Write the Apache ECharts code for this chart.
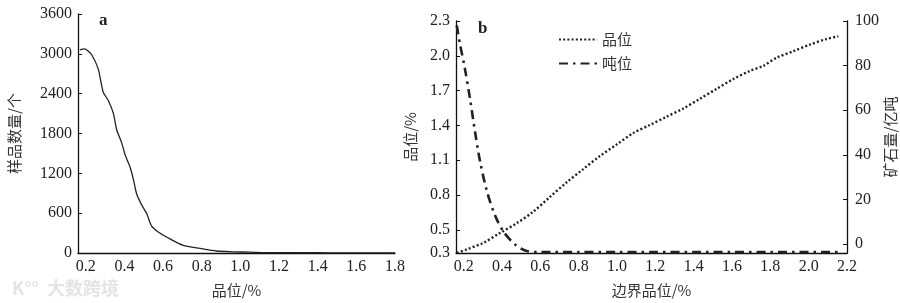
<!DOCTYPE html>
<html>
<head>
<meta charset="utf-8">
<title>品位 / 吨位</title>
<script src="https://cdn.jsdelivr.net/npm/echarts@6/dist/echarts.min.js"></script>
<style>
  html, body { margin: 0; padding: 0; background: #fff; }
  #chart { width: 900px; height: 303px; }
</style>
</head>
<body>
<div id="chart"></div>
<script>
// panel a: sample count vs grade
const aGrade = [0.17, 0.19, 0.2, 0.23, 0.265, 0.29, 0.316, 0.343, 0.36, 0.386, 0.403, 0.43, 0.446, 0.463, 0.49, 0.515, 0.54, 0.583, 0.636, 0.705, 0.79, 0.877, 0.96, 1.05, 1.135, 1.2, 1.3, 1.4, 1.5, 1.6, 1.7, 1.8];
const aCount = [3060, 3075, 3070, 2990, 2770, 2425, 2300, 2104, 1856, 1659, 1486, 1289, 1116, 893, 721, 597, 410, 301, 212, 114, 70, 30, 18, 12, 6, 6, 4, 4, 2, 3, 1, 0];
const aXTicks = [0.2, 0.4, 0.6, 0.8, 1.0, 1.2, 1.4, 1.6, 1.8];

// panel b: average grade and tonnage vs cut-off grade
const gradeX = [0.165, 0.216, 0.302, 0.389, 0.477, 0.563, 0.65, 0.738, 0.824, 0.911, 0.998, 1.085, 1.172, 1.259, 1.346, 1.433, 1.52, 1.607, 1.694, 1.763, 1.833, 1.92, 2.007, 2.094, 2.155];
const gradeY = [0.3, 0.331, 0.387, 0.472, 0.557, 0.656, 0.783, 0.91, 1.023, 1.136, 1.235, 1.334, 1.404, 1.475, 1.546, 1.63, 1.715, 1.8, 1.87, 1.913, 1.984, 2.04, 2.097, 2.145, 2.168];
const tonX = [0.164, 0.18, 0.207, 0.233, 0.259, 0.285, 0.32, 0.363, 0.407, 0.468, 0.529, 0.6, 0.8, 1.0, 1.2, 1.4, 1.6, 1.8, 2.0, 2.155];
const tonY = [98, 90, 78.4, 65.2, 50.5, 37.3, 24.1, 13, 5.7, -0.2, -3.1, -3.6, -3.6, -3.6, -3.6, -3.6, -3.6, -3.6, -3.6, -3.6];
const bXTicks = [0.2, 0.4, 0.6, 0.8, 1.0, 1.2, 1.4, 1.6, 1.8, 2.0, 2.2];
const bLeftTicks = [0.3, 0.5, 0.8, 1.1, 1.4, 1.7, 2.0, 2.3];
const bRightTicks = [0, 20, 40, 60, 80, 100];

const pair = (xs, ys) => xs.map((x, i) => [x, ys[i]]);

const numFont = 'Liberation Serif';
const cjkFont = 'Noto Sans CJK SC';
const axisLine = { show: true, onZero: false, lineStyle: { color: '#111', width: 1.3 } };
const numLabel = { color: '#222', fontFamily: numFont, fontSize: 16 };
const nameStyle = { color: '#333', fontFamily: cjkFont, fontSize: 15 };
const fix1 = v => v.toFixed(1);
const plain = v => String(v);
const inTick = { show: true, inside: true, length: 4, lineStyle: { color: '#111' } };

const chart = echarts.init(document.getElementById('chart'));

chart.setOption({
  animation: false,
  backgroundColor: '#fff',
  grid: [
    { left: 78, right: 505, top: 14, bottom: 46 },
    { left: 456, right: 53, top: 21, bottom: 46 }
  ],
  xAxis: [
    {
      gridIndex: 0, type: 'value', min: 0.16, max: 1.8,
      axisLine: axisLine, axisTick: { show: false }, splitLine: { show: false },
      axisLabel: Object.assign({ customValues: aXTicks, formatter: fix1, margin: 6 }, numLabel),
      name: '品位/%', nameLocation: 'middle', nameGap: 30, nameTextStyle: nameStyle
    },
    {
      gridIndex: 1, type: 'value', min: 0.16, max: 2.2,
      axisLine: axisLine, axisTick: { show: false }, splitLine: { show: false },
      axisLabel: Object.assign({ customValues: bXTicks, formatter: fix1, margin: 6 }, numLabel),
      name: '边界品位/%', nameLocation: 'middle', nameGap: 30, nameTextStyle: nameStyle
    }
  ],
  yAxis: [
    {
      gridIndex: 0, type: 'value', min: 0, max: 3600, interval: 600,
      axisLine: axisLine, splitLine: { show: false }, axisTick: inTick,
      axisLabel: Object.assign({ formatter: plain, margin: 6 }, numLabel),
      name: '样品数量/个', nameLocation: 'middle', nameGap: 56, nameTextStyle: nameStyle
    },
    {
      gridIndex: 1, type: 'value', min: 0.3, max: 2.3,
      axisLine: axisLine, splitLine: { show: false },
      axisTick: Object.assign({ customValues: bLeftTicks }, inTick),
      axisLabel: Object.assign({ customValues: bLeftTicks, formatter: fix1, margin: 6 }, numLabel),
      name: '品位/%', nameLocation: 'middle', nameGap: 38, nameTextStyle: nameStyle
    },
    {
      gridIndex: 1, type: 'value', position: 'right', min: -4, max: 100,
      axisLine: axisLine, splitLine: { show: false },
      axisTick: Object.assign({ customValues: bRightTicks }, inTick),
      axisLabel: Object.assign({ customValues: bRightTicks, formatter: plain, margin: 8 }, numLabel),
      name: '矿石量/亿吨', nameLocation: 'middle', nameGap: 36, nameTextStyle: nameStyle
    }
  ],
  legend: {
    orient: 'vertical', left: 553, top: 27, itemWidth: 38, itemHeight: 12, itemGap: 9,
    itemStyle: { opacity: 0 },
    textStyle: { color: '#333', fontFamily: cjkFont, fontSize: 15 },
    data: ['品位', '吨位']
  },
  series: [
    {
      type: 'line', xAxisIndex: 0, yAxisIndex: 0, data: pair(aGrade, aCount),
      symbol: 'none', smooth: 0.2, lineStyle: { color: '#222', width: 1.3 }
    },
    {
      name: '品位', type: 'line', xAxisIndex: 1, yAxisIndex: 1, data: pair(gradeX, gradeY),
      symbol: 'none', smooth: 0.3, itemStyle: { color: '#222' },
      lineStyle: { color: '#222', width: 2.4, type: [2, 2.2] }
    },
    {
      name: '吨位', type: 'line', xAxisIndex: 1, yAxisIndex: 2, data: pair(tonX, tonY),
      symbol: 'none', smooth: 0.3, itemStyle: { color: '#222' },
      lineStyle: { color: '#222', width: 2.6, type: [9, 5, 2.5, 5] }
    }
  ],
  graphic: [
    { type: 'text', left: 99, top: 12, style: { text: 'a', font: 'bold 17px "Liberation Serif"', fill: '#222' } },
    { type: 'text', left: 478, top: 20, style: { text: 'b', font: 'bold 17px "Liberation Serif"', fill: '#222' } },
    // faint watermark bottom left
    { type: 'text', left: 12, top: 279, style: { text: 'K°°  大数跨境', font: 'bold 18px "Noto Sans CJK SC"', fill: '#e4e4e4' } }
  ]
});
</script>
</body>
</html>
